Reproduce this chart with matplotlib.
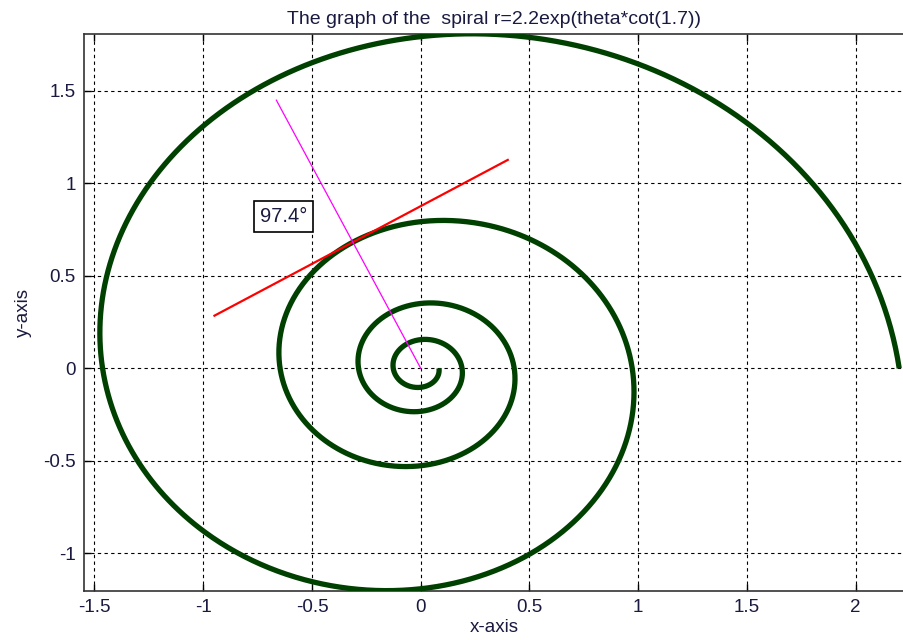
"""
Espiral logarítmica r = a*exp(theta*cot(alpha)) con recta tangente y radio
"""

import numpy as np
import matplotlib.pyplot as plt

a = 2.2
alpha = 1.7                     # ángulo entre radio y tangente (rad)
theta_max = 8 * np.pi           # cuatro vueltas
theta0 = 2.0 + 2 * np.pi        # punto de tangencia (segunda vuelta)
tangent_span = [-0.75, 0.84]    # extensión de la tangente a cada lado
radius_len = 1.595              # largo del segmento radial (magenta)
angle_label = '97.4°'
label_pos = [-0.632, 0.822]

xticks = [-1.5, -1, -0.5, 0, 0.5, 1, 1.5, 2]
xticklabels = ['-1.5', '-1', '-0.5', '0', '0.5', '1', '1.5', '2']
yticks = [-1, -0.5, 0, 0.5, 1, 1.5]
yticklabels = ['-1', '-0.5', '0', '0.5', '1', '1.5']

plt.rcParams['font.family'] = ['Liberation Sans', 'DejaVu Sans']

# Curva
b = 1 / np.tan(alpha)
theta = np.linspace(0, theta_max, 3000)
r = a * np.exp(theta * b)
x = r * np.cos(theta)
y = r * np.sin(theta)

# Punto de tangencia y direcciones
r0 = a * np.exp(theta0 * b)
p0 = np.array([r0 * np.cos(theta0), r0 * np.sin(theta0)])
dir_rad = np.array([np.cos(theta0), np.sin(theta0)])
dir_tan = np.array([np.cos(theta0 + alpha), np.sin(theta0 + alpha)])
t = np.array(tangent_span)
tan_x = p0[0] - t * dir_tan[0]
tan_y = p0[1] - t * dir_tan[1]
rad_x = [0, radius_len * dir_rad[0]]
rad_y = [0, radius_len * dir_rad[1]]

fig = plt.figure(figsize=(9.04, 6.4), dpi=100)
ax = fig.add_axes([84 / 904, 49.5 / 640, 820 / 904, 556.5 / 640])

ax.plot(x, y, color='#004000', linewidth=3.8, solid_capstyle='butt', zorder=3)
ax.plot(tan_x, tan_y, color='#ff0000', linewidth=1.6, zorder=4)
ax.plot(rad_x, rad_y, color='#ff00ff', linewidth=0.9, zorder=4)

ax.text(label_pos[0], label_pos[1], angle_label, fontsize=14.5,
        ha='center', va='center', zorder=5, color='#1a1a40',
        bbox=dict(boxstyle='square,pad=0.3', facecolor='white',
                  edgecolor='black', linewidth=1.2))

ax.set_xlim(-1.548, 2.222)
ax.set_ylim(-1.202, 1.808)
ax.set_xticks(xticks)
ax.set_xticklabels(xticklabels)
ax.set_yticks(yticks)
ax.set_yticklabels(yticklabels)
ax.tick_params(direction='in', length=5, width=1, labelsize=13.5,
               labelcolor='#1a1a40', top=True, right=False, pad=6)

ax.grid(True, color='black', linestyle=(0, (3, 3)), linewidth=0.8, zorder=1)
ax.spines['right'].set_visible(False)
for s in ['left', 'bottom', 'top']:
    ax.spines[s].set_linewidth(1.2)
    ax.spines[s].set_color('#333333')

ax.set_title('The graph of the  spiral r=2.2exp(theta*cot(1.7))',
             fontsize=14, pad=7, color='#1a1a40')
ax.set_xlabel('x-axis', fontsize=13.5, labelpad=2, color='#1a1a40')
ax.set_ylabel('y-axis', fontsize=13.5, labelpad=8, color='#1a1a40')

plt.savefig('out.png', dpi=100)
